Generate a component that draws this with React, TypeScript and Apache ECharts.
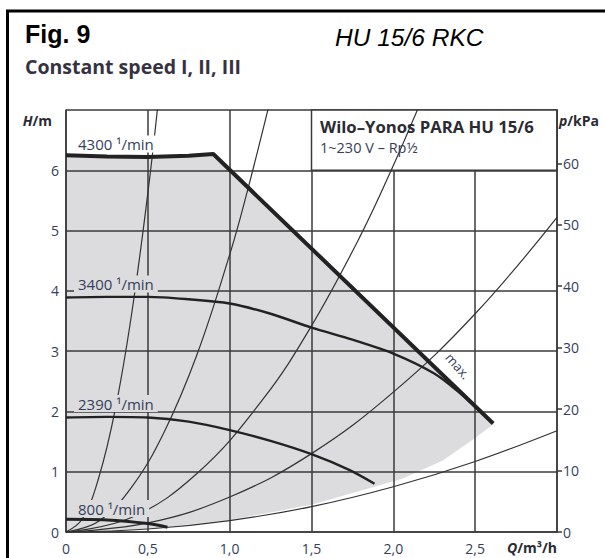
import React, { useEffect, useRef } from "react";
import * as echarts from "echarts";

// ---- data ----
const KPA_PER_M = 9.81;
const Q_MAX = 3;
const H_MAX = 7;
const xTickValues = [0, 0.5, 1, 1.5, 2, 2.5];
const pressureTicks = [0, 10, 20, 30, 40, 50, 60];

// max speed (4300 1/min) curve: Q [m3/h], H [m]
const curveMax = [
  [0, 6.25], [0.25, 6.23], [0.5, 6.22], [0.75, 6.24], [0.9, 6.27], [2.61, 1.8],
];
const curve3400 = [
  [0, 3.89], [0.25, 3.9], [0.5, 3.9], [0.75, 3.86], [1.0, 3.79], [1.25, 3.62],
  [1.5, 3.39], [1.75, 3.19], [2.0, 2.96], [2.25, 2.63], [2.4, 2.32], [2.53, 2.0],
];
const curve2390 = [
  [0, 1.9], [0.25, 1.91], [0.5, 1.9], [0.75, 1.83], [1.0, 1.69], [1.25, 1.51],
  [1.5, 1.29], [1.73, 1.03], [1.885, 0.8],
];
const curve800 = [[0, 0.21], [0.25, 0.2], [0.5, 0.14], [0.62, 0.08]];

// lower edge of the grey working range (from tip back to origin)
const rangeLower = [
  [2.61, 1.8], [2.59, 1.74], [2.5, 1.56], [2.3, 1.18], [2.05, 0.88],
  [1.5, 0.45], [1.0, 0.2], [0.5, 0.05], [0, 0],
];

// system (pipe) curves
const sysA = [[0, 0], [0.1, 0.22], [0.2, 0.9], [0.3, 2.02], [0.4, 3.6], [0.5, 5.62], [0.56, 7.05]];
const sysB = [[0, 0], [0.2, 0.18], [0.4, 0.74], [0.6, 1.66], [0.8, 2.94], [1.0, 4.6], [1.1, 5.57], [1.235, 7.02]];
const sysC = [[0, 0], [0.4, 0.24], [0.8, 0.97], [1.2, 2.19], [1.5, 3.42], [1.8, 4.92], [2.0, 6.08], [2.15, 7.02]];
const sysD = [[0, 0], [0.5, 0.15], [1.0, 0.58], [1.5, 1.3], [2.0, 2.32], [2.5, 3.62], [3.0, 5.22]];
const sysE = [[0, 0], [0.5, 0.05], [1.0, 0.19], [1.5, 0.42], [2.0, 0.75], [2.5, 1.17], [3.0, 1.68]];

const legendBox = [[1.5, 6], [3, 7]];

const LABEL_FONT = '"Open Sans", "Noto Sans", sans-serif';
const LABEL_COLOR = "#34405a";
const GRID_COLOR = "#3a3a3a";
const FILL = "#dcdcde";

export default function App() {
  const ref = useRef<HTMLDivElement>(null);

  useEffect(() => {
    if (!ref.current) return;
    const chart = echarts.init(ref.current, undefined, { renderer: "svg" });

    const sysLine = (data: number[][]) => ({
      type: "line",
      data,
      smooth: 0.4,
      symbol: "none",
      z: 2,
      silent: true,
      lineStyle: { color: "#333", width: 1.2 },
    });

    const speedLine = (data: number[][], width: number, smooth: number | boolean) => ({
      type: "line",
      data,
      smooth,
      symbol: "none",
      z: 3,
      silent: true,
      lineStyle: { color: "#222", width },
    });

    const curveLabel = (text: string, x: number, y: number, bg: string) => ({
      type: "text",
      z: 50,
      x,
      y,
      style: {
        text,
        font: `15px ${LABEL_FONT}`,
        fill: LABEL_COLOR,
        verticalAlign: "middle",
        backgroundColor: bg,
        padding: [1, 4, 1, 4],
      },
    });

    chart.setOption({
      animation: false,
      backgroundColor: "#fff",
      grid: { left: 66, top: 110, width: 491, height: 422 },
      xAxis: {
        type: "value",
        min: 0,
        max: Q_MAX,
        interval: 0.5,
        z: 1,
        axisLine: { show: true, lineStyle: { color: GRID_COLOR, width: 1.5 } },
        axisTick: { show: false },
        axisLabel: {
          margin: 9,
          fontSize: 14,
          fontFamily: LABEL_FONT,
          color: LABEL_COLOR,
          formatter: (v: number) =>
            xTickValues.includes(v) ? (v === 0 ? "0" : v.toFixed(1).replace(".", ",")) : "",
        },
        splitLine: { show: true, lineStyle: { color: GRID_COLOR, width: 1.5 } },
      },
      yAxis: [
        {
          type: "value",
          min: 0,
          max: H_MAX,
          interval: 1,
          z: 1,
          axisLine: { show: true, lineStyle: { color: GRID_COLOR, width: 1.5 } },
          axisTick: { show: false },
          axisLabel: {
            margin: 7,
            fontSize: 14,
            fontFamily: LABEL_FONT,
            color: LABEL_COLOR,
            formatter: (v: number) => (v < H_MAX ? String(v) : ""),
          },
          splitLine: { show: true, lineStyle: { color: GRID_COLOR, width: 1.5 } },
        },
        {
          type: "value",
          position: "right",
          min: 0,
          max: H_MAX * KPA_PER_M,
          z: 1,
          axisLine: { show: true, lineStyle: { color: GRID_COLOR, width: 1.5 } },
          axisTick: {
            show: true,
            length: 5,
            lineStyle: { color: GRID_COLOR, width: 1.5 },
            customValues: pressureTicks,
          },
          axisLabel: {
            margin: 6,
            fontSize: 14,
            fontFamily: LABEL_FONT,
            color: LABEL_COLOR,
            customValues: pressureTicks,
          },
          splitLine: { show: false },
        },
      ],
      series: [
        {
          type: "custom",
          coordinateSystem: "cartesian2d",
          data: [[0, 0]],
          z: 0,
          silent: true,
          renderItem: (_p: any, api: any) => {
            const pts = [...curveMax, ...rangeLower].map((d) => api.coord(d));
            return { type: "polygon", shape: { points: pts }, style: { fill: FILL } };
          },
        },
        sysLine(sysA),
        sysLine(sysB),
        sysLine(sysC),
        sysLine(sysD),
        sysLine(sysE),
        speedLine(curve3400, 2.4, 0.3),
        speedLine(curve2390, 2.4, 0.3),
        speedLine(curve800, 3, 0.3),
        speedLine(curveMax, 4, false),
        {
          type: "line",
          data: [],
          z: 5,
          silent: true,
          markArea: {
            silent: true,
            itemStyle: { color: "#fff", borderColor: GRID_COLOR, borderWidth: 1.5 },
            data: [[{ coord: legendBox[0] }, { coord: legendBox[1] }]],
          },
        },
      ],
      graphic: [
        {
          type: "rect",
          z: 60,
          shape: { x: 7.5, y: 11, width: 700, height: 700 },
          style: { fill: "none", stroke: "#000", lineWidth: 3 },
        },
        {
          type: "text", z: 60, x: 25, y: 34,
          style: { text: "Fig. 9", font: 'bold 25px "Liberation Sans", Arial, sans-serif', fill: "#000", verticalAlign: "middle" },
        },
        {
          type: "text", z: 60, x: 335, y: 37,
          style: { text: "HU 15/6 RKC", font: 'italic 24.5px "Liberation Sans", Arial, sans-serif', fill: "#000", verticalAlign: "middle" },
        },
        {
          type: "text", z: 60, x: 25, y: 66,
          style: { text: "Constant speed I, II, III", font: `bold 19.5px ${LABEL_FONT}`, fill: "#363242", verticalAlign: "middle" },
        },
        {
          type: "text", z: 60, x: 320, y: 126,
          style: { text: "Wilo–Yonos PARA HU 15/6", font: `bold 16.7px ${LABEL_FONT}`, fill: "#2b2b33", verticalAlign: "middle" },
        },
        {
          type: "text", z: 60, x: 320, y: 147,
          style: { text: "1~230 V – Rp½", font: `14.5px ${LABEL_FONT}`, fill: LABEL_COLOR, verticalAlign: "middle" },
        },
        {
          type: "text", z: 60, x: 52, y: 120,
          style: {
            text: "{i|H}{b|/m}",
            align: "right",
            verticalAlign: "middle",
            rich: {
              i: { font: `italic bold 14px ${LABEL_FONT}`, fill: "#2b2b33" },
              b: { font: `bold 14px ${LABEL_FONT}`, fill: "#2b2b33" },
            },
          },
        },
        {
          type: "text", z: 60, x: 559, y: 120,
          style: {
            text: "{i|p}{b|/kPa}",
            verticalAlign: "middle",
            rich: {
              i: { font: `italic bold 14px ${LABEL_FONT}`, fill: "#2b2b33" },
              b: { font: `bold 14px ${LABEL_FONT}`, fill: "#2b2b33" },
            },
          },
        },
        {
          type: "text", z: 60, x: 557, y: 547,
          style: {
            text: "{i|Q}{b|/m³/h}",
            align: "right",
            verticalAlign: "middle",
            rich: {
              i: { font: `italic bold 14px ${LABEL_FONT}`, fill: "#2b2b33" },
              b: { font: `bold 14px ${LABEL_FONT}`, fill: "#2b2b33" },
            },
          },
        },
        curveLabel("4300 ¹/min", 74, 144, "#fff"),
        curveLabel("3400 ¹/min", 74, 284, FILL),
        curveLabel("2390 ¹/min", 74, 403.5, FILL),
        curveLabel("800 ¹/min", 74, 508.5, FILL),
        {
          type: "text", z: 60, x: 458, y: 366, rotation: -0.84,
          style: { text: "max.", font: `13px ${LABEL_FONT}`, fill: LABEL_COLOR, align: "center", verticalAlign: "middle" },
        },
      ],
    });

    return () => chart.dispose();
  }, []);

  return (
    <div
      ref={ref}
      style={{ position: "fixed", left: 0, top: 0, width: 605, height: 558, background: "#fff" }}
    />
  );
}
